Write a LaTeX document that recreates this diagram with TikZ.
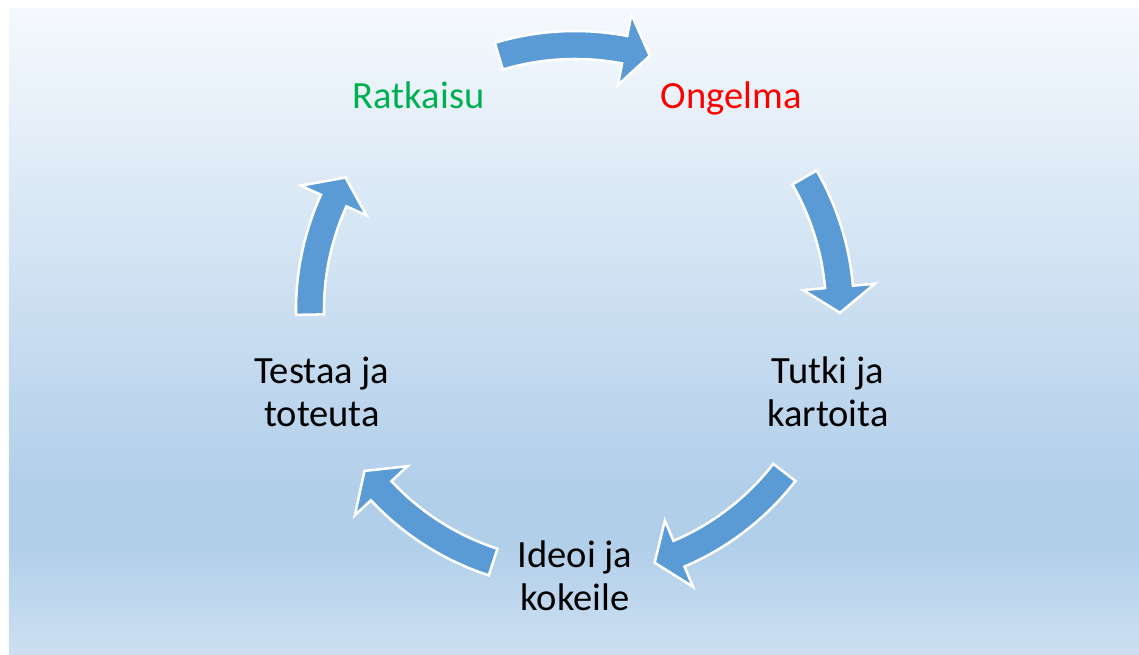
\documentclass[tikz,border=0pt]{standalone}
\usepackage{fontspec}
\setmainfont{Carlito}

\definecolor{bgtop}{HTML}{F5F9FD}
\definecolor{bgdeep}{HTML}{B2CFEA}
\definecolor{bgfoot}{HTML}{CCE0F1}
\definecolor{arrowblue}{HTML}{5B9BD5}
\definecolor{solved}{HTML}{00B050}
\definecolor{problem}{HTML}{FF0000}
\pgfdeclareverticalshading{cyclebg}{100bp}{color(0bp)=(bgfoot); color(25bp)=(bgfoot); color(33.5bp)=(bgdeep); color(38bp)=(bgdeep); color(75bp)=(bgtop); color(100bp)=(bgtop)}

\begin{document}
\begin{tikzpicture}[x=0.025cm, y=0.025cm,
	step label/.style={font=\fontsize{27.4}{30.5}\selectfont, align=center},
	cycle arrow/.style={fill=arrowblue, draw=white, line width=1.8pt, line join=miter}]
\useasboundingbox (-575,-345) rectangle (564,310);
\shade[shading=cyclebg] (-566,-345) rectangle (564,301);
% the five steps round the cycle
\node[step label, text=solved] (ratkaisu) at (126:266) {Ratkaisu};
\node[step label, text=problem, text depth=0pt] (ongelma) at (54:266) {Ongelma};
\node[step label] (tutki) at (-18:266) {Tutki ja\\kartoita};
\node[step label] (ideoi) at (-90:266) {Ideoi ja\\kokeile};
\node[step label] (testaa) at (198:266) {Testaa ja\\toteuta};
% curved block arrows, tail angle / tip angle
\foreach \tail/\tip in {106.7/73.6, 30/-0.6, -37.8/-72.5, -108/-142.6, 181/150}
	\filldraw[cycle arrow] (\tail:279) arc[start angle=\tail, end angle=\tip+5.6, radius=279]
		-- ({\tip+5.6}:301) -- (\tip:265) -- ({\tip+5.6}:229) -- ({\tip+5.6}:251)
		arc[start angle=\tip+5.6, end angle=\tail, radius=251] -- cycle;
\end{tikzpicture}
\end{document}
